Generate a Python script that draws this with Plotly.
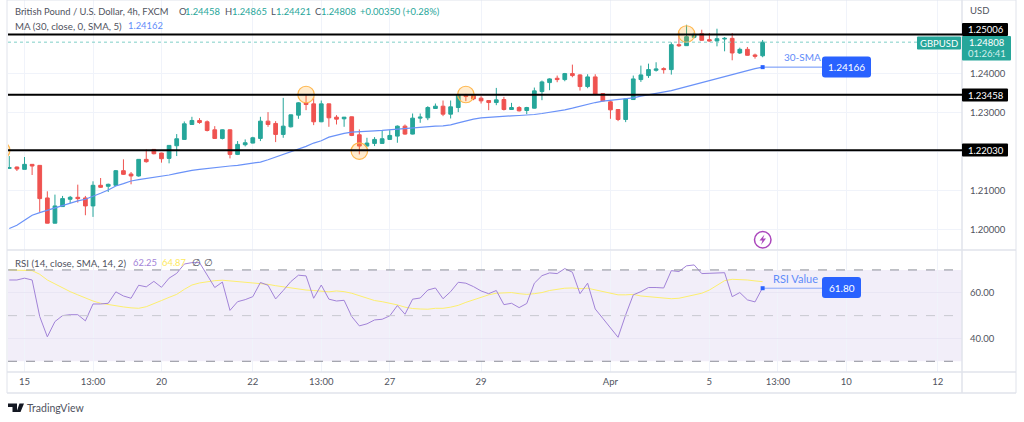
import plotly.graph_objects as go

# GBP/USD 4h candles
opens = [1.21564,1.21598,1.21538,1.21667,1.21641,1.20803,1.20154,1.20581,1.20769,1.20820,
         1.20803,1.20598,1.21128,1.21103,1.21128,1.21504,1.21419,1.21368,1.21795,1.22051,
         1.21957,1.21820,1.22145,1.22308,1.22692,1.22795,1.22761,1.22555,1.22333,1.22555,
         1.21923,1.22171,1.22214,1.22333,1.22778,1.22718,1.22436,1.22632,1.22932,1.23248,
         1.23222,1.22761,1.23222,1.22880,1.22838,1.22889,1.22427,1.22137,1.22205,1.22205,
         1.22308,1.22393,1.22649,1.22445,1.22855,1.22863,1.23103,1.23162,1.22957,1.23128,
         1.23453,1.23436,1.23368,1.23308,1.23256,1.23333,1.23077,1.23128,1.23051,1.23111,
         1.23538,1.23769,1.23880,1.23846,1.24000,1.23966,1.23667,1.23915,1.23487,1.23274,
         1.23077,1.22820,1.23333,1.23846,1.23949,1.24085,1.24128,1.24103,1.24744,1.24718,
         1.24932,1.25026,1.24872,1.24838,1.24889,1.24906,1.24530,1.24624,1.24479,1.24458]
highs = [1.21880,1.21610,1.21855,1.21670,1.21641,1.20974,1.20889,1.20855,1.20855,1.21145,
         1.20855,1.21231,1.21316,1.21171,1.21522,1.21795,1.21470,1.21800,1.22051,1.22055,
         1.21965,1.22160,1.22445,1.22769,1.22889,1.22855,1.22795,1.22649,1.22564,1.22564,
         1.22265,1.22308,1.22376,1.22889,1.23009,1.22778,1.23376,1.22945,1.23265,1.23462,
         1.23393,1.23308,1.23230,1.22932,1.22885,1.22895,1.22564,1.22350,1.22367,1.22538,
         1.22547,1.22667,1.22692,1.22974,1.22974,1.23162,1.23231,1.23308,1.23308,1.23479,
         1.23479,1.23462,1.23419,1.23315,1.23632,1.23402,1.23248,1.23162,1.23145,1.23641,
         1.23821,1.23880,1.23949,1.24017,1.24231,1.23983,1.23983,1.23983,1.23495,1.23308,
         1.23085,1.23355,1.23949,1.24205,1.24256,1.24291,1.24162,1.24803,1.25060,1.25256,
         1.25060,1.25128,1.25043,1.25154,1.24940,1.25043,1.24667,1.24684,1.24513,1.24865]
lows = [1.21555,1.21496,1.21538,1.21393,1.20444,1.20150,1.20150,1.20575,1.20667,1.20684,
        1.20359,1.20316,1.21060,1.20957,1.21111,1.21393,1.21154,1.21351,1.21710,1.21923,
        1.21710,1.21693,1.21880,1.22300,1.22684,1.22709,1.22513,1.22325,1.22308,1.21820,
        1.21906,1.22128,1.22205,1.22265,1.22632,1.22239,1.22350,1.22615,1.22838,1.23060,
        1.22675,1.22752,1.22632,1.22692,1.22632,1.22393,1.21923,1.22128,1.22137,1.22200,
        1.22300,1.22222,1.22427,1.22436,1.22735,1.22803,1.23094,1.22906,1.22846,1.23009,
        1.23291,1.23316,1.23231,1.23060,1.23188,1.23051,1.23068,1.23026,1.22957,1.23103,
        1.23316,1.23573,1.23778,1.23803,1.23906,1.23564,1.23624,1.23444,1.23282,1.22838,
        1.22778,1.22752,1.23325,1.23786,1.23889,1.24051,1.24000,1.23974,1.24684,1.24710,
        1.24906,1.24846,1.24821,1.24701,1.24573,1.24342,1.24504,1.24460,1.24385,1.24421]
closes = [1.21581,1.21547,1.21667,1.21624,1.20786,1.20154,1.20598,1.20786,1.20820,1.20786,
          1.20598,1.21128,1.21077,1.21154,1.21504,1.21410,1.21368,1.21795,1.21735,1.21940,
          1.21812,1.22154,1.22325,1.22709,1.22795,1.22743,1.22538,1.22333,1.22555,1.21923,
          1.22180,1.22222,1.22350,1.22778,1.22692,1.22436,1.22649,1.22940,1.23248,1.23205,
          1.22761,1.23222,1.22863,1.22829,1.22880,1.22410,1.22137,1.22214,1.22308,1.22325,
          1.22410,1.22649,1.22445,1.22855,1.22880,1.23128,1.23162,1.22957,1.23145,1.23462,
          1.23410,1.23350,1.23299,1.23256,1.23325,1.23077,1.23128,1.23043,1.23128,1.23556,
          1.23786,1.23863,1.23846,1.24000,1.23949,1.23667,1.23915,1.23470,1.23299,1.23068,
          1.22820,1.23350,1.23863,1.23966,1.24103,1.24120,1.24103,1.24744,1.24718,1.24949,
          1.25009,1.24855,1.24838,1.24897,1.24906,1.24530,1.24624,1.24470,1.24444,1.24808]
sma30 = [1.20017,1.20103,1.20231,1.20359,1.20427,1.20487,1.20556,1.20624,1.20684,1.20726,
         1.20769,1.20838,1.20923,1.21009,1.21111,1.21171,1.21239,1.21274,1.21299,1.21325,
         1.21350,1.21393,1.21436,1.21479,1.21513,1.21538,1.21564,1.21581,1.21598,1.21624,
         1.21641,1.21667,1.21692,1.21726,1.21786,1.21855,1.21906,1.21983,1.22043,1.22128,
         1.22214,1.22274,1.22367,1.22419,1.22462,1.22496,1.22513,1.22521,1.22530,1.22538,
         1.22555,1.22581,1.22590,1.22598,1.22615,1.22632,1.22649,1.22658,1.22684,1.22735,
         1.22786,1.22829,1.22863,1.22880,1.22889,1.22906,1.22914,1.22923,1.22932,1.22949,
         1.22974,1.23000,1.23034,1.23068,1.23111,1.23162,1.23214,1.23256,1.23291,1.23308,
         1.23325,1.23350,1.23376,1.23419,1.23453,1.23487,1.23513,1.23564,1.23615,1.23667,
         1.23718,1.23769,1.23821,1.23872,1.23923,1.23974,1.24026,1.24077,1.24128,1.24166]
rsi = [65.6,65.6,66.4,65.6,49.6,40.7,47.4,50.0,50.4,50.4,
       47.7,55.1,55.1,55.4,60.4,58.6,57.6,63.3,62.6,65.0,
       62.4,66.4,68.5,72.6,73.2,73.2,67.8,62.3,64.7,52.3,
       56.1,57.0,58.3,64.5,63.3,57.3,61.0,64.9,67.7,67.4,
       57.6,63.4,57.2,56.4,56.7,49.6,45.5,46.4,48.1,48.4,
       49.9,54.4,50.6,57.2,57.7,61.2,62.1,57.4,60.5,64.6,
       64.2,62.7,60.8,59.6,61.0,54.8,55.4,53.5,55.3,64.2,
       67.5,68.7,68.4,70.6,69.0,59.6,64.2,52.9,48.8,44.7,
       40.5,50.3,59.1,60.5,62.3,62.3,62.1,69.7,69.3,71.8,
       72.2,68.4,68.5,68.7,68.8,58.3,60.1,56.9,56.0,62.25]
rsi_ma = [70.0,70.0,70.0,69.7,68.1,65.6,63.9,62.1,60.5,59.1,
          57.6,56.4,55.4,54.8,54.2,53.8,53.4,53.2,53.9,55.4,
          56.6,58.0,59.3,61.5,63.4,64.3,64.9,65.3,65.5,65.2,
          64.9,64.6,64.3,64.2,63.7,63.1,62.6,62.0,61.7,61.2,
          61.0,60.8,60.4,60.8,60.5,59.8,58.8,57.6,56.6,56.1,
          55.5,54.7,53.7,53.1,52.9,52.8,53.2,53.2,53.7,54.5,
          55.8,57.0,58.0,59.1,59.8,59.9,60.1,59.6,59.3,59.6,
          60.1,61.0,61.5,62.0,62.1,61.8,62.0,61.2,60.7,59.8,
          59.1,59.1,59.3,58.6,58.3,58.0,57.6,57.4,57.6,58.3,
          58.9,59.8,61.2,63.4,65.3,65.9,65.9,65.6,65.2,64.87]

levels = [1.25006, 1.23458, 1.22030]
last_close = 1.24808
sma_note = 1.24166
rsi_note = 62.0

spot_idx = [-1.0, 39, 46, 60, 89]
spot_price = [1.22030, 1.23462, 1.22008, 1.23462, 1.25018]

date_ticks = [2, 11, 20, 32, 41, 50, 62, 79, 92, 101, 110, 122]
date_labels = ["15", "13:00", "20", "22", "13:00", "27", "29", "Apr", "5", "13:00", "10", "12"]
price_ticks = [1.20, 1.21, 1.22, 1.23, 1.24]
price_labels = ["1.20000", "1.21000", "1.22000", "1.23000", "1.24000"]
rsi_ticks = [40, 60]
rsi_labels = ["40.00", "60.00"]

W, H = 1024, 422
GREEN = "#26a69a"
RED = "#ef5350"
BLUE = "#2962ff"
GRID = "#f0f3fa"
FRAME = "#e0e3eb"
GREY = "#50535e"
FONT = "Lato"


def px(x):
    return x / W


def py(y):
    return 1 - y / H


def label(text, x, y, size=9.5, color=GREY, anchor="left", **kw):
    # annotations carry about 2px of padding on the left
    xpos = x - 2 if anchor == "left" else x
    fig.add_annotation(text=text, x=px(xpos), y=py(y), xref="paper", yref="paper",
                       xanchor=anchor, yanchor="middle", showarrow=False,
                       font=dict(family=FONT, size=size, color=color), **kw)


def rounded(x0, y0, x1, y1, r, fill):
    # path in pixels of the page, turned into paper coordinates
    a = lambda x, y: f"{px(x):.5f},{py(y):.5f}"
    path = (f"M{a(x0 + r, y0)} L{a(x1 - r, y0)} Q{a(x1, y0)} {a(x1, y0 + r)} "
            f"L{a(x1, y1 - r)} Q{a(x1, y1)} {a(x1 - r, y1)} L{a(x0 + r, y1)} "
            f"Q{a(x0, y1)} {a(x0, y1 - r)} L{a(x0, y0 + r)} Q{a(x0, y0)} {a(x0 + r, y0)} Z")
    fig.add_shape(type="path", path=path, xref="paper", yref="paper",
                  fillcolor=fill, line_width=0)


def hline(x0, y0, x1, y1, color=FRAME, width=1):
    fig.add_shape(type="line", x0=px(x0), y0=py(y0), x1=px(x1), y1=py(y1),
                  xref="paper", yref="paper", line=dict(color=color, width=width))


fig = go.Figure()
idx = list(range(len(closes)))

fig.add_trace(go.Candlestick(
    x=idx, open=opens, high=highs, low=lows, close=closes,
    increasing=dict(line=dict(color=GREEN, width=1), fillcolor=GREEN),
    decreasing=dict(line=dict(color=RED, width=1), fillcolor=RED),
    whiskerwidth=0, xaxis="x", yaxis="y"))
fig.add_trace(go.Scatter(x=idx, y=sma30, mode="lines", line=dict(color="#6a92f8", width=1.2),
                         xaxis="x", yaxis="y"))
fig.add_trace(go.Scatter(x=[idx[-1], 106.8], y=[sma_note, sma_note], mode="lines",
                         line=dict(color="#6a92f8", width=1), xaxis="x", yaxis="y"))
fig.add_trace(go.Scatter(x=[idx[-1]], y=[sma_note], mode="markers",
                         marker=dict(color=BLUE, size=4, symbol="square"), xaxis="x", yaxis="y"))
fig.add_trace(go.Scatter(x=spot_idx, y=spot_price, mode="markers",
                         marker=dict(size=16.5, color="rgba(255,167,38,0.22)",
                                     line=dict(color="#ffb74d", width=1.2)),
                         xaxis="x", yaxis="y"))

fig.add_trace(go.Scatter(x=idx, y=rsi_ma, mode="lines", line=dict(color="#fdee6e", width=1),
                         xaxis="x2", yaxis="y2"))
fig.add_trace(go.Scatter(x=idx, y=rsi, mode="lines", line=dict(color="#a283d8", width=1),
                         xaxis="x2", yaxis="y2"))
fig.add_trace(go.Scatter(x=[idx[-1], 106.8], y=[rsi_note, rsi_note], mode="lines",
                         line=dict(color="#8aa8fa", width=1), xaxis="x2", yaxis="y2"))
fig.add_trace(go.Scatter(x=[idx[-1]], y=[rsi_note], mode="markers",
                         marker=dict(color=BLUE, size=4, symbol="square"), xaxis="x2", yaxis="y2"))

# pane frame
hline(7, 0, 1016, 0)
hline(7, 250, 1016, 250, width=1.5)
hline(7, 372, 1016, 372, width=1.5)
hline(7, 393, 1016, 393, width=1.5)
hline(7, 0, 7, 393)
hline(962, 0, 962, 393, width=1.5)
hline(1016, 0, 1016, 393)

# RSI band
fig.add_shape(type="rect", xref="x2", yref="y2", x0=-0.17, x1=125.2, y0=30, y1=70,
              fillcolor="rgba(126,87,194,0.1)", line_width=0, layer="below")
for lvl, col in [(70, "#8a8d97"), (50, "#c8c9d0"), (30, "#8a8d97")]:
    fig.add_shape(type="line", xref="x2", yref="y2", x0=-0.17, x1=125.2, y0=lvl, y1=lvl,
                  line=dict(color=col, width=1, dash="dash"))

# support / resistance lines and current price line
for lvl in levels:
    fig.add_shape(type="line", xref="x", yref="y", x0=-0.17, x1=125.2, y0=lvl, y1=lvl,
                  line=dict(color="#000000", width=2))
fig.add_shape(type="line", xref="x", yref="y", x0=-0.17, x1=125.2, y0=last_close, y1=last_close,
              line=dict(color="#7fcfc7", width=1, dash="dot"))

# price boxes on the axis, the top one pushed up by the green box
for lvl, y in zip(levels, [29.5, 95, 150]):
    rounded(962, y - 6.5, 1008, y + 6.5, 1, "#000000")
    label(f"{lvl:.5f}", 986, y, color="#ffffff", anchor="center")
rounded(962, 36, 1011, 60.5, 1, GREEN)
label("1.24808", 986.5, 42.5, color="#ffffff", anchor="center")
label("01:26:41", 986.5, 54, color="#d4efec", anchor="center")
rounded(917, 36.5, 961, 49.5, 1, GREEN)
label("GBPUSD", 939, 43, color="#ffffff", anchor="center")

rounded(822, 56.5, 871, 77.5, 3, BLUE)
label("1.24166", 846.5, 67, size=10, color="#ffffff", anchor="center")
label("30-SMA", 784, 57, size=10, color="#5f8cf9")
rounded(822, 277, 861, 298, 3, BLUE)
label("61.80", 841.5, 287.5, size=10, color="#ffffff", anchor="center")
label("RSI Value", 773, 278, size=11, color="#5f8cf9")

# header lines
label("British Pound / U.S. Dollar, 4h, FXCM", 14.7, 12, size=9.4)
for name, val, xn, xv in [("O", "1.24458", 179, 185), ("H", "1.24865", 224.5, 232),
                          ("L", "1.24421", 270.5, 276), ("C", "1.24808", 314.5, 321)]:
    label(name, xn, 12, size=9.4)
    label(val, xv, 12, size=9.4, color=GREEN)
label("+0.00350 (+0.28%)", 360, 12, size=9.4, color=GREEN)
label("MA (30, close, 0, SMA, 5)", 14.7, 25.5, size=9.7)
label("1.24162", 128, 25.5, size=9.4, color="#5f8cf9")
label("RSI (14, close, SMA, 14, 2)", 14.7, 262.5, size=9.7)
label("62.25", 133, 262.5, size=9.4, color="#a283d8")
label("64.87", 162, 262.5, size=9.4, color="#fde95e")
label("∅", 192, 262.5)
label("∅", 204, 262.5)
label("USD", 970, 11)

# lightning mark above the RSI pane
fig.add_shape(type="circle", xref="paper", yref="paper", x0=px(754.5), x1=px(771), y0=py(248),
              y1=py(231.5), line=dict(color="#ab47bc", width=1.5), fillcolor="#ffffff")
bolt = [(764.5, 234.5), (759.5, 240.5), (762.5, 240.5), (761, 245), (766, 238.5), (763, 238.5)]
fig.add_shape(type="path", xref="paper", yref="paper", line_width=0, fillcolor="#ab47bc",
              path="M" + " L".join(f"{px(a):.5f},{py(b):.5f}" for a, b in bolt) + " Z")

# logo and name
logo_t = [(8, 403.5), (17, 403.5), (17, 412), (12.5, 412), (12.5, 407), (8, 407)]
logo_v = [(19.5, 403.5), (24, 403.5), (20.5, 412), (16.5, 412)]
for part in (logo_t, logo_v):
    fig.add_shape(type="path", xref="paper", yref="paper", line_width=0, fillcolor="#131722",
                  path="M" + " L".join(f"{px(a):.5f},{py(b):.5f}" for a, b in part) + " Z")
label("TradingView", 27, 408, size=10.5)

axis_font = dict(family=FONT, size=9.5, color=GREY)
fig.update_layout(
    width=W, height=H, margin=dict(l=0, r=0, t=0, b=0),
    paper_bgcolor="#ffffff", plot_bgcolor="#ffffff", showlegend=False,
    xaxis=dict(domain=[px(8), px(962)], range=[-0.17, 125.2], anchor="y", rangeslider=dict(visible=False),
               tickvals=date_ticks, ticktext=[""] * len(date_ticks), showgrid=True, gridcolor=GRID,
               gridwidth=1, zeroline=False, ticks=""),
    yaxis=dict(domain=[py(250), 1], range=[1.19465, 1.25892], side="right", anchor="x",
               tickvals=price_ticks, ticktext=price_labels, tickfont=axis_font, showgrid=True,
               gridcolor=GRID, zeroline=False, ticks="outside", ticklen=5, tickcolor="rgba(0,0,0,0)"),
    xaxis2=dict(domain=[px(8), px(962)], range=[-0.17, 125.2], anchor="y2", matches="x",
                tickvals=date_ticks, ticktext=date_labels, tickfont=axis_font, showgrid=True,
                gridcolor=GRID, zeroline=False, ticks="outside", ticklen=1, tickcolor="rgba(0,0,0,0)"),
    yaxis2=dict(domain=[py(372), py(251)], range=[25.3, 78.3], side="right", anchor="x2",
                tickvals=rsi_ticks, ticktext=rsi_labels, tickfont=axis_font, showgrid=True,
                gridcolor="#e9e6f4", zeroline=False, ticks="outside", ticklen=5, tickcolor="rgba(0,0,0,0)"),
)

fig.write_html("out.html", config=dict(displayModeBar=False),
               post_script="document.body.style.margin='0';")
